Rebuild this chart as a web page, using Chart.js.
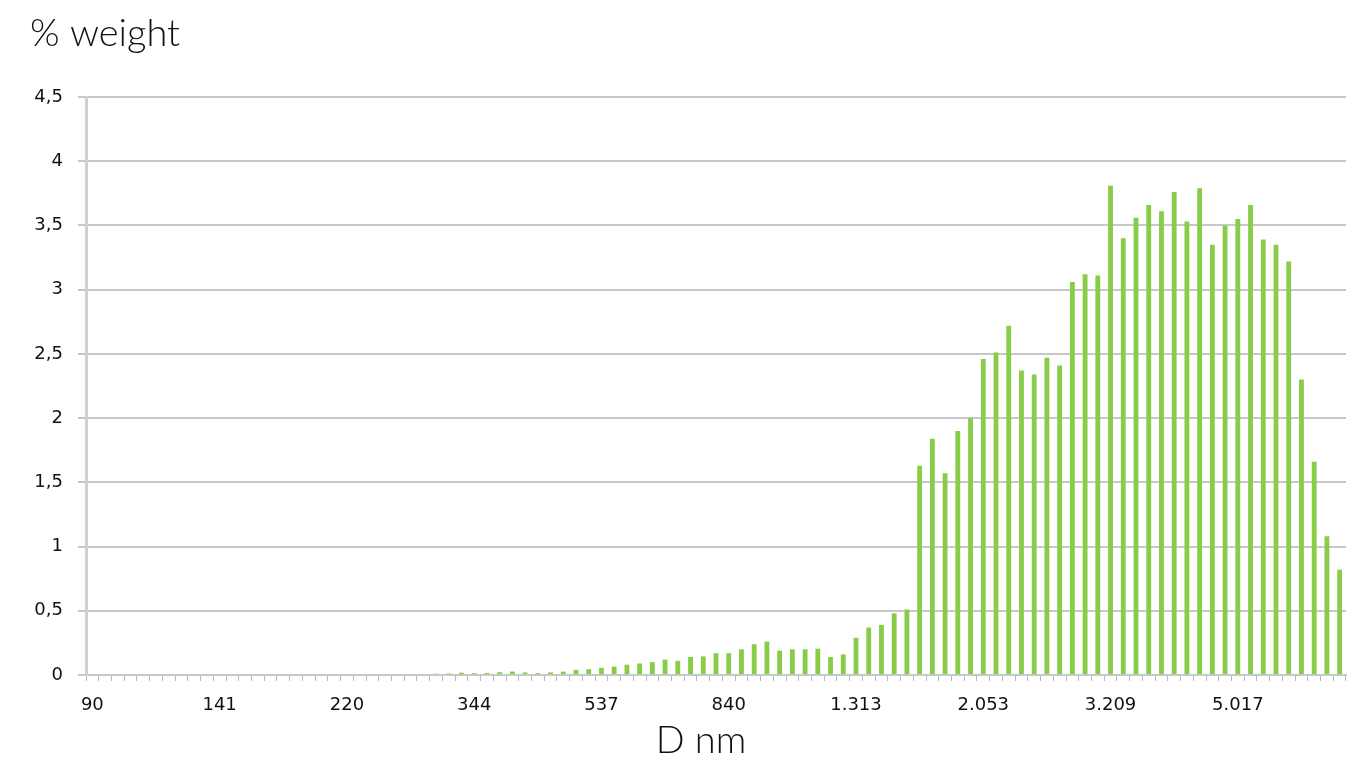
<!DOCTYPE html>
<html>
<head>
<meta charset="utf-8">
<script src="https://cdn.jsdelivr.net/npm/chart.js@4.4.1/dist/chart.umd.min.js"></script>
<style>
  html, body { margin: 0; padding: 0; background: #ffffff; }
  #wrap { width: 1360px; height: 780px; }
</style>
</head>
<body>
<div id="wrap"><canvas id="c" width="1360" height="780"></canvas></div>
<script>
// Particle diameters (nm), log-spaced classes
const diameters = [
  '90','94','98','103','108','113','118','123','129','135',
  '141','147','154','161','168','176','184','192','201','210',
  '220','230','240','251','263','275','287','301','314','329',
  '344','359','376','393','411','430','449','470','491','514',
  '537','562','587','614','642','672','702','735','768','803',
  '840','878','918','961','1.004','1.050','1.098','1.148','1.201','1.256',
  '1.313','1.373','1.436','1.502','1.570','1.642','1.717','1.795','1.877','1.963',
  '2.053','2.146','2.244','2.347','2.454','2.567','2.684','2.806','2.935','3.068',
  '3.209','3.355','3.508','3.669','3.836','4.013','4.196','4.386','4.588','4.796',
  '5.017','5.245','5.484','5.735','5.996','6.273','6.559','6.856','7.172'
];

// % weight per class
const weightPct = [
  0,0,0,0,0,0,0,0,0,0,
  0,0,0,0,0,0,0,0,0,0,
  0,0,0,0,0,0,0,0.01,0.012,0.018,
  0.015,0.016,0.022,0.027,0.02,0.015,0.02,0.026,0.04,0.045,
  0.056,0.065,0.08,0.09,0.10,0.12,0.11,0.14,0.145,0.17,
  0.17,0.20,0.24,0.26,0.19,0.20,0.20,0.205,0.14,0.16,
  0.29,0.37,0.39,0.48,0.51,1.63,1.84,1.57,1.90,2.00,
  2.46,2.51,2.72,2.37,2.34,2.47,2.41,3.06,3.12,3.11,
  3.81,3.40,3.56,3.66,3.61,3.76,3.53,3.79,3.35,3.50,
  3.55,3.66,3.39,3.35,3.22,2.30,1.66,1.08,0.82
];

// Y axis range and step
const yMin = 0;
const yMax = 4.5;
const yStep = 0.5;
const xLabelEvery = 10;

const xTitlePlugin = {
  id: 'xTitle',
  afterDraw(chart) {
    const ctx = chart.ctx;
    ctx.save();
    ctx.font = '300 38px Lato';
    ctx.fillStyle = '#111111';
    ctx.textAlign = 'center';
    ctx.textBaseline = 'alphabetic';
    ctx.fillText('D nm', 701, 753);
    ctx.restore();
  }
};

new Chart(document.getElementById('c'), {
  type: 'bar',
  data: {
    labels: diameters,
    datasets: [{
      label: '% weight',
      data: weightPct,
      backgroundColor: '#88cd48',
      borderWidth: 0,
      categoryPercentage: 1.0,
      barPercentage: 0.38
    }]
  },
  plugins: [xTitlePlugin],
  options: {
    responsive: false,
    animation: false,
    layout: { padding: { left: 30, right: 14, top: 0, bottom: 0 } },
    plugins: {
      legend: { display: false },
      tooltip: { enabled: false },
      title: {
        display: true,
        text: '% weight',
        align: 'start',
        color: '#111111',
        font: { family: 'Lato', size: 38, weight: '300' },
        padding: { top: 11, bottom: 40.4 }
      }
    },
    scales: {
      x: {
        afterFit(scale) { scale.height = 105; },
        grid: {
          display: true,
          drawOnChartArea: false,
          drawTicks: true,
          tickLength: 6,
          color: '#b8b8c8',
          lineWidth: 1,
          offset: true
        },
        border: { display: true, color: '#c8c8c8', width: 2 },
        ticks: {
          autoSkip: false,
          maxRotation: 0,
          minRotation: 0,
          padding: 14,
          color: '#111111',
          font: { family: 'DejaVu Sans', size: 18 },
          callback: function(value, index) {
            return index % xLabelEvery === 0 ? diameters[index] : '';
          }
        }
      },
      y: {
        min: yMin,
        max: yMax,
        afterFit(scale) { scale.width = 56; },
        grid: {
          color: '#c8c8c8',
          lineWidth: 2,
          drawTicks: true,
          tickLength: 8
        },
        border: { display: true, color: '#d0d0d0', width: 3 },
        ticks: {
          stepSize: yStep,
          padding: 15,
          color: '#111111',
          font: { family: 'DejaVu Sans', size: 18 },
          callback: function(value) { return String(value).replace('.', ','); }
        }
      }
    }
  }
});
</script>
</body>
</html>
